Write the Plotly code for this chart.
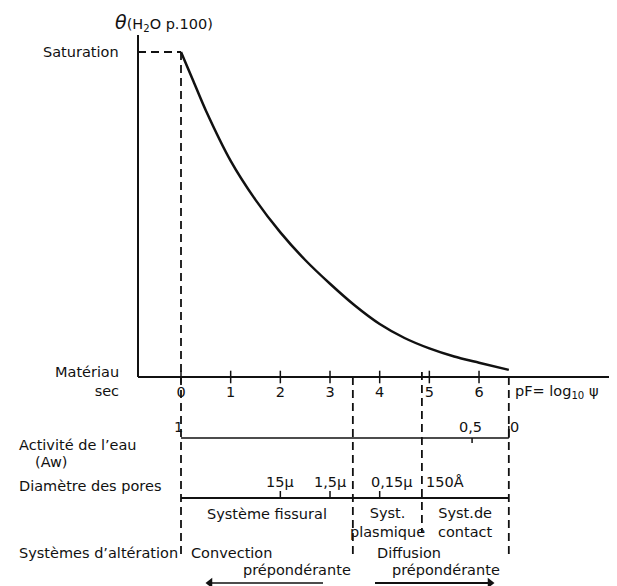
import plotly.graph_objects as go

# ---------------- data ----------------
pf = [0, 0.25, 0.5, 1, 1.5, 2, 2.5, 3, 3.5, 4, 4.5, 5, 5.5, 6, 6.6]
theta = [100, 91, 82, 66.5, 54.5, 44.5, 36, 28.7, 22, 16.3, 12, 8.8, 6.3, 4.4, 2.2]

pf_ticks = [0, 1, 2, 3, 4, 5, 6]
zone_bounds = [0, 3.46, 4.85, 6.6]
zone_names = ["Système fissural", "Syst.<br>plasmique", "Syst.de<br>contact"]

aw_pf = [0, 5.86, 6.6]
aw_labels = ["1", "0,5", "0"]

pore_pf = [2, 3, 4, 4.85]
pore_labels = ["15µ", "1,5µ", "0,15µ", "150Å"]

# ---------------- geometry (layout, page pixels) ----------------
PAGE_W, PAGE_H = 617, 586
OFF = 8  # browser default body margin
W, H = PAGE_W - OFF, PAGE_H - OFF
AX_LEFT_PX = 138
X0_PX = 181
PX_PER_PF = 49.67
AXIS_Y_PX = 377
SAT_Y_PX = 52
TOP_Y_PX = 35

x_range = [(AX_LEFT_PX - X0_PX) / PX_PER_PF, (PAGE_W - X0_PX) / PX_PER_PF]
px_per_theta = (AXIS_Y_PX - SAT_Y_PX) / 100.0
y_range = [-(PAGE_H - AXIS_Y_PX) / px_per_theta, (AXIS_Y_PX - OFF) / px_per_theta]


def P(py):
    """page pixel y -> paper y"""
    return 1 - (py - OFF) / H


def PX(px):
    """page pixel x -> paper x"""
    return (px - OFF) / W


def X(px):
    """page pixel x -> pF data"""
    return (px - X0_PX) / PX_PER_PF


def T(py):
    """page pixel y -> theta data"""
    return (AXIS_Y_PX - py) / px_per_theta


FONT = "DejaVu Sans"
FS = 14.5
BLACK = "#111111"
DASH = "8px,5px"

fig = go.Figure()

# main curve
fig.add_trace(go.Scatter(x=pf, y=theta, mode="lines",
                         line=dict(color=BLACK, width=2.5, shape="spline", smoothing=0.8),
                         hoverinfo="skip"))
# saturation dashed plateau
fig.add_trace(go.Scatter(x=[x_range[0], pf[0]], y=[theta[0], theta[0]], mode="lines",
                         line=dict(color=BLACK, width=2, dash=DASH), hoverinfo="skip"))
# crossing ticks on x axis
fig.add_trace(go.Scatter(x=pf_ticks, y=[0] * len(pf_ticks), mode="markers",
                         marker=dict(symbol="line-ns", size=9,
                                     line=dict(color=BLACK, width=1.5)),
                         hoverinfo="skip"))

shapes = []
# y axis line
shapes.append(dict(type="line", xref="paper", yref="paper",
                   x0=PX(AX_LEFT_PX), x1=PX(AX_LEFT_PX), y0=P(AXIS_Y_PX), y1=P(TOP_Y_PX),
                   line=dict(color=BLACK, width=2)))
# small saturation tick
shapes.append(dict(type="line", xref="paper", yref="paper",
                   x0=PX(AX_LEFT_PX), x1=PX(AX_LEFT_PX + 6), y0=P(SAT_Y_PX), y1=P(SAT_Y_PX),
                   line=dict(color=BLACK, width=2)))

# vertical dashed boundaries
v_extents = [(SAT_Y_PX, 558), (AXIS_Y_PX, 556), (372, 533), (AXIS_Y_PX, 558)]
for b, (ya, yb) in zip(zone_bounds, v_extents):
    shapes.append(dict(type="line", xref="x", yref="paper", x0=b, x1=b,
                       y0=P(ya), y1=P(yb), line=dict(color=BLACK, width=1.8, dash=DASH)))

# water activity scale
AW_Y = 438
shapes.append(dict(type="line", xref="x", yref="paper", x0=aw_pf[0], x1=aw_pf[-1],
                   y0=P(AW_Y), y1=P(AW_Y), line=dict(color=BLACK, width=1.5)))
shapes.append(dict(type="line", xref="x", yref="paper", x0=aw_pf[1], x1=aw_pf[1],
                   y0=P(AW_Y), y1=P(AW_Y + 5), line=dict(color=BLACK, width=1.5)))
shapes.append(dict(type="line", xref="x", yref="paper", x0=aw_pf[-1], x1=aw_pf[-1],
                   y0=P(AW_Y), y1=P(AW_Y - 12), line=dict(color=BLACK, width=1.5)))

# pore diameter scale
PORE_Y = 498
shapes.append(dict(type="line", xref="x", yref="paper", x0=zone_bounds[0], x1=zone_bounds[-1],
                   y0=P(PORE_Y), y1=P(PORE_Y), line=dict(color=BLACK, width=2)))
for v in pore_pf[:3]:
    shapes.append(dict(type="line", xref="x", yref="paper", x0=v, x1=v,
                       y0=P(PORE_Y), y1=P(PORE_Y - 7), line=dict(color=BLACK, width=1.5)))

# bottom arrows (shafts)
ARROW_Y = 583
shapes.append(dict(type="line", xref="x", yref="paper", x0=X(212), x1=X(323),
                   y0=P(ARROW_Y), y1=P(ARROW_Y), line=dict(color=BLACK, width=1.5)))
shapes.append(dict(type="line", xref="x", yref="paper", x0=X(375), x1=X(488),
                   y0=P(ARROW_Y), y1=P(ARROW_Y), line=dict(color=BLACK, width=2.2)))
# arrow heads
fig.add_trace(go.Scatter(x=[X(210), X(490)], y=[T(ARROW_Y), T(ARROW_Y)], mode="markers",
                         marker=dict(symbol=["triangle-left", "triangle-right"], size=9,
                                     color=BLACK), cliponaxis=False, hoverinfo="skip"))

ann = []


def txt(text, x, y, xref="x", xanchor="center", size=FS, align="center", xshift=0):
    ann.append(dict(text=text, x=x, y=y, xref=xref, yref="paper", xanchor=xanchor,
                    yanchor="middle", showarrow=False, align=align, xshift=xshift,
                    font=dict(family=FONT, size=size, color=BLACK)))


# title and y labels
txt("<span style='font-size:19px'><i>θ</i></span>(H<sub>2</sub>O p.100)", PX(113), P(22),
    xref="paper", xanchor="left", size=14.5)
txt("Saturation", PX(121), P(SAT_Y_PX), xref="paper", xanchor="right")
txt("Matériau<br>sec", PX(121), P(381), xref="paper", xanchor="right", align="right")
txt("pF= log<sub>10</sub> ψ", PX(513), P(392), xref="paper", xanchor="left")

# left row labels
txt("Activité de l’eau", PX(17), P(445), xref="paper", xanchor="left")
txt("(Aw)", PX(33), P(462), xref="paper", xanchor="left")
txt("Diamètre des pores", PX(17), P(486), xref="paper", xanchor="left")
txt("Systèmes d’altération", PX(17), P(553), xref="paper", xanchor="left")

# aw labels
aw_shift = [-3, -2, 6]
for v, lab, s in zip(aw_pf, aw_labels, aw_shift):
    txt(lab, v, P(427), xshift=s)

# pore labels
pore_shift = [0, 0, 12, 0]
for i, (v, lab) in enumerate(zip(pore_pf, pore_labels)):
    if i == 3:
        txt(lab, v, P(482), xanchor="left", xshift=2)
    else:
        txt(lab, v, P(482), xshift=pore_shift[i])

# zone names
for i, name in enumerate(zone_names):
    mid = (zone_bounds[i] + zone_bounds[i + 1]) / 2
    txt(name, mid, P(522) if "<br>" in name else P(514))

# convection / diffusion
txt("Convection", zone_bounds[0], P(553), xanchor="left", xshift=8)
txt("prépondérante", zone_bounds[1], P(570), xanchor="right", xshift=0)
txt("Diffusion", zone_bounds[1], P(553), xanchor="left", xshift=22)
txt("prépondérante", zone_bounds[3], P(570), xanchor="right", xshift=-7)

fig.update_layout(
    width=W, height=H, margin=dict(l=0, r=0, t=0, b=0),
    paper_bgcolor="white", plot_bgcolor="white", showlegend=False,
    xaxis=dict(domain=[PX(AX_LEFT_PX), 1], range=x_range, anchor="free",
               position=P(AXIS_Y_PX), showline=True, linecolor=BLACK, linewidth=2,
               showgrid=False, zeroline=False, ticks="", tickvals=pf_ticks,
               ticktext=[str(t) for t in pf_ticks], ticklabelstandoff=2,
               tickfont=dict(family=FONT, size=FS, color=BLACK)),
    yaxis=dict(domain=[0, 1], range=y_range, visible=False, showgrid=False, zeroline=False),
    shapes=shapes, annotations=ann,
)

fig.write_html("out.html")
